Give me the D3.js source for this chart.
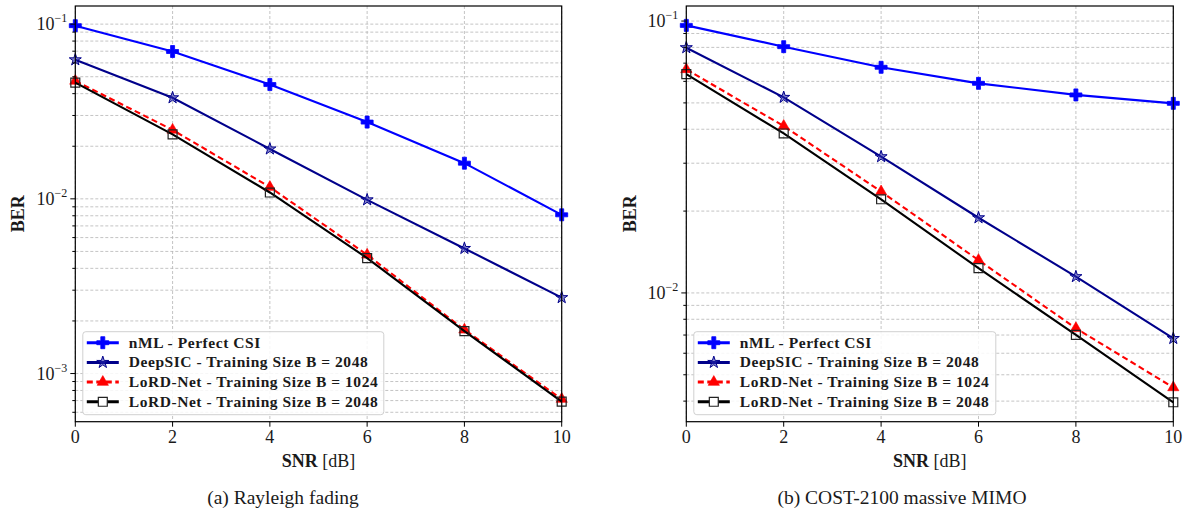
<!DOCTYPE html>
<html>
<head>
<meta charset="utf-8">
<script src="https://cdn.jsdelivr.net/npm/d3@7"></script>
<style>
  body { margin: 0; background: #fff; }
</style>
</head>
<body>
<svg id="chart" width="1187" height="516"></svg>
<script>
'use strict';

// values (BER vs SNR)
var snr = [0, 2, 4, 6, 8, 10]
var xTicks = [0, 2, 4, 6, 8, 10]
var seriesNames = [
    'nML - Perfect CSI'
  , 'DeepSIC - Training Size B = 2048'
  , 'LoRD-Net - Training Size B = 1024'
  , 'LoRD-Net - Training Size B = 2048'
]

var rayNML      = [0.098, 0.0697, 0.0451, 0.0275, 0.0160, 0.0081]
var rayDeepSIC  = [0.0625, 0.0379, 0.0193, 0.00987, 0.0052, 0.00272]
var rayLord1024 = [0.0473, 0.0248, 0.01167, 0.00478, 0.00178, 0.000714]
var rayLord2048 = [0.0463, 0.0234, 0.01087, 0.00458, 0.00175, 0.000691]

var costNML      = [0.0964, 0.0805, 0.0676, 0.0590, 0.0535, 0.0498]
var costDeepSIC  = [0.0798, 0.0524, 0.0317, 0.0189, 0.01148, 0.0068]
var costLord1024 = [0.0664, 0.0411, 0.0236, 0.0132, 0.00741, 0.00449]
var costLord2048 = [0.0638, 0.0386, 0.0221, 0.01233, 0.00701, 0.00396]

var rayMajor = [-1, -2, -3]   // exponents
var costMajor = [-1, -2]

var serif = "'Liberation Serif', 'DejaVu Serif', 'Times New Roman', serif"

var styles = [
    { color: '#0000ff', dash: null, sym: d3.symbolCross, size: 80, fill: '#0000ff', stroke: '#0000ff', sw: 0.8 }
  , { color: '#00008b', dash: null, sym: d3.symbolStar, size: 45, fill: 'rgba(40,40,170,0.55)', stroke: '#00008b', sw: 1 }
  , { color: '#ff0000', dash: '6,3.5', sym: d3.symbolTriangle, size: 55, fill: '#ff0000', stroke: '#ff0000', sw: 0.6 }
  , { color: '#000000', dash: null, sym: d3.symbolSquare, size: 80, fill: 'none', stroke: '#222', sw: 1.2 }
]

var svg = d3.select('#chart')
  .attr('font-family', serif)
  .style('font-family', serif)
var top_ = 6, bottom = 421.7

function txt(sel) {
  return sel.append('text').attr('fill', '#1a1a1a').style('font-family', serif)
}

function panel(opt) {
  var g = svg.append('g')
  var x = d3.scaleLinear().domain([0, 10]).range([opt.left, opt.right])
  var y = d3.scaleLog().domain(opt.yDomain).range([bottom, top_])
  var lo = opt.yDomain[0], hi = opt.yDomain[1]

  var minors = []
  for (var e = -5; e <= 0; e++)
    for (var k = 2; k <= 9; k++) {
      var v = k * Math.pow(10, e)
      if (v > lo && v < hi) minors.push(v)
    }
  var majors = opt.major.map(function(e) { return Math.pow(10, e) })

  // grid
  var grid = g.append('g').attr('stroke', '#b5b5b5').attr('stroke-width', 0.8)
    .attr('stroke-dasharray', '3,2').attr('fill', 'none')
  minors.concat(majors).forEach(function(v) {
    grid.append('line').attr('x1', opt.left).attr('x2', opt.right)
      .attr('y1', y(v)).attr('y2', y(v))
  })
  xTicks.forEach(function(t) {
    grid.append('line').attr('x1', x(t)).attr('x2', x(t))
      .attr('y1', top_).attr('y2', bottom)
  })

  // series
  var line = d3.line().x(function(d) { return x(d[0]) }).y(function(d) { return y(d[1]) })
  opt.series.forEach(function(vals, i) {
    var s = styles[i]
    var pts = snr.map(function(t, j) { return [t, vals[j]] })
    g.append('path').attr('d', line(pts)).attr('fill', 'none')
      .attr('stroke', s.color).attr('stroke-width', 2.1)
      .attr('stroke-dasharray', s.dash)
    g.selectAll(null).data(pts).enter().append('path')
      .attr('d', d3.symbol().type(s.sym).size(s.size))
      .attr('transform', function(d) { return 'translate(' + [x(d[0]), y(d[1])] + ')' })
      .attr('fill', s.fill).attr('stroke', s.stroke).attr('stroke-width', s.sw)
  })

  // frame
  g.append('rect').attr('x', opt.left).attr('y', top_)
    .attr('width', opt.right - opt.left).attr('height', bottom - top_)
    .attr('fill', 'none').attr('stroke', '#000').attr('stroke-width', 1.2)

  // ticks
  var ticks = g.append('g').attr('stroke', '#000').attr('stroke-width', 1)
  minors.forEach(function(v) {
    ticks.append('line').attr('x1', opt.left - 3).attr('x2', opt.left).attr('y1', y(v)).attr('y2', y(v))
  })
  majors.forEach(function(v) {
    ticks.append('line').attr('x1', opt.left - 5).attr('x2', opt.left).attr('y1', y(v)).attr('y2', y(v))
  })
  xTicks.forEach(function(t) {
    ticks.append('line').attr('x1', x(t)).attr('x2', x(t)).attr('y1', bottom).attr('y2', bottom + 5)
  })

  opt.major.forEach(function(e) {
    var t = txt(g).attr('x', opt.left - 8).attr('y', y(Math.pow(10, e)) + 6)
      .attr('text-anchor', 'end').attr('font-size', 18)
    t.append('tspan').text('10')
    t.append('tspan').attr('dy', -8).attr('font-size', 12).text('\u2212' + (-e))
  })
  xTicks.forEach(function(t) {
    txt(g).attr('x', x(t)).attr('y', bottom + 21)
      .attr('text-anchor', 'middle').attr('font-size', 18).text(t)
  })

  // axis labels
  var cx = (opt.left + opt.right) / 2
  var xl = txt(g).attr('x', cx).attr('y', 467).attr('text-anchor', 'middle').attr('font-size', 18)
  xl.append('tspan').attr('font-weight', 'bold').text('SNR')
  xl.append('tspan').text(' [dB]')
  txt(g).attr('transform', 'translate(' + [opt.yLabelX, (top_ + bottom) / 2] + ') rotate(-90)')
    .attr('text-anchor', 'middle').attr('font-size', 18).attr('font-weight', 'bold').text('BER')

  txt(g).attr('x', opt.capX).attr('y', 504).attr('text-anchor', 'middle')
    .attr('font-size', 19.5).text(opt.caption)

  // legend
  var lg = g.append('g').attr('transform', 'translate(' + [opt.left + 7.5, 331.7] + ')')
  lg.append('rect').attr('width', opt.legW).attr('height', 83).attr('rx', 3)
    .attr('fill', 'rgba(255,255,255,0.85)').attr('stroke', '#d0d0d0')
  seriesNames.forEach(function(name, i) {
    var s = styles[i], ry = 11 + i * 19.7
    lg.append('line').attr('x1', 4).attr('x2', 36).attr('y1', ry).attr('y2', ry)
      .attr('stroke', s.color).attr('stroke-width', 3).attr('stroke-dasharray', s.dash)
    lg.append('path').attr('d', d3.symbol().type(s.sym).size(s.size))
      .attr('transform', 'translate(' + [20, ry] + ')')
      .attr('fill', s.fill === 'none' ? '#fff' : s.fill).attr('stroke', s.stroke).attr('stroke-width', s.sw)
    txt(lg).attr('x', 46).attr('y', ry + 5).attr('font-size', 15.5)
      .attr('letter-spacing', 0.55).attr('font-weight', 'bold').text(name)
  })
}

panel({
    left: 75.3, right: 561.7
  , yDomain: [5.3e-4, 0.127]
  , major: rayMajor
  , series: [rayNML, rayDeepSIC, rayLord1024, rayLord2048]
  , yLabelX: 24
  , capX: 283
  , caption: '(a) Rayleigh fading'
  , legW: 301
})

panel({
    left: 686.3, right: 1173.3
  , yDomain: [0.00336, 0.1136]
  , major: costMajor
  , series: [costNML, costDeepSIC, costLord1024, costLord2048]
  , yLabelX: 636
  , capX: 902
  , caption: '(b) COST-2100 massive MIMO'
  , legW: 302
})
</script>
</body>
</html>
